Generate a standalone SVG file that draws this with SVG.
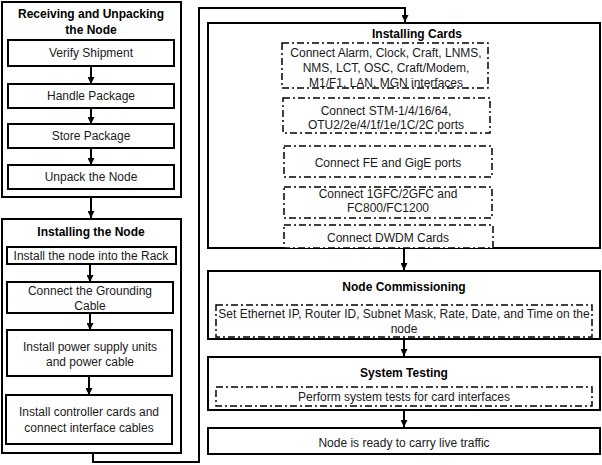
<svg xmlns="http://www.w3.org/2000/svg" width="602" height="465" viewBox="0 0 602 465">
<defs>
<marker id="ah" viewBox="0 0 10 10" refX="10" refY="5" markerWidth="7" markerHeight="7" markerUnits="userSpaceOnUse" orient="auto">
<path d="M0,0 L10,5 L0,10 z" fill="#000"/>
</marker>
<style>
.outer{fill:#fff;stroke:#000;stroke-width:2}
.box{fill:#fff;stroke:#000;stroke-width:2}
.dash{fill:#fff;stroke:#000;stroke-width:1.5;stroke-dasharray:7 3 2 3}
.t{font-family:"Liberation Sans",Arial,sans-serif;font-size:12px;fill:#1a1a1a;text-anchor:middle}
.b{font-family:"Liberation Sans",Arial,sans-serif;font-size:12px;font-weight:bold;fill:#000;text-anchor:middle}
.c{fill:none;stroke:#000;stroke-width:2}
</style>
</defs>
<rect width="602" height="465" fill="#fff"/>

<g id="receiving">
<rect class="outer" x="2" y="2" width="179" height="195"/>
<text class="b" x="91" y="18">Receiving and Unpacking</text>
<text class="b" x="91" y="34">the Node</text>
</g>
<g id="verify"><rect class="box" x="8" y="40" width="166" height="26"/><text class="t" x="91" y="57">Verify Shipment</text></g>
<g id="handle"><rect class="box" x="8" y="84" width="166" height="24"/><text class="t" x="91" y="100">Handle Package</text></g>
<g id="store"><rect class="box" x="8" y="124" width="166" height="24"/><text class="t" x="91" y="140">Store Package</text></g>
<g id="unpack"><rect class="box" x="8" y="165" width="166" height="24"/><text class="t" x="91" y="181">Unpack the Node</text></g>

<g id="installing-node">
<rect class="outer" x="2" y="219" width="179" height="234"/>
<text class="b" x="91" y="236">Installing  the Node</text>
</g>
<g id="rack"><rect class="box" x="7" y="247" width="169" height="17"/><text class="t" x="91" y="259.5">Install the node into the Rack</text></g>
<g id="ground"><rect class="box" x="7" y="282" width="166" height="31"/><text class="t" x="90" y="295">Connect the Grounding</text><text class="t" x="90" y="310">Cable</text></g>
<g id="power"><rect class="box" x="7" y="330" width="165" height="46"/><text class="t" x="90" y="351">Install power supply units</text><text class="t" x="90" y="366">and power cable</text></g>
<g id="controller"><rect class="box" x="6" y="395" width="166" height="49"/><text class="t" x="89" y="416">Install controller cards and</text><text class="t" x="89" y="432">connect interface cables</text></g>

<g id="installing-cards">
<rect class="outer" x="208" y="23" width="392" height="225"/>
<text class="b" x="417" y="38">Installing  Cards</text>
</g>
<g id="alarm"><rect class="dash" x="282" y="43" width="206" height="45"/>
<text class="t" x="386" y="57">Connect Alarm, Clock, Craft, LNMS,</text>
<text class="t" x="386" y="72">NMS, LCT, OSC, Craft/Modem,</text>
<text class="t" x="386" y="87">M1/F1, LAN, MGN interfaces</text></g>
<g id="stm"><rect class="dash" x="283" y="98" width="207" height="35"/>
<text class="t" x="386" y="115">Connect STM-1/4/16/64,</text>
<text class="t" x="386" y="129">OTU2/2e/4/1f/1e/1C/2C ports</text></g>
<g id="fe"><rect class="dash" x="284" y="146" width="208" height="31"/>
<text class="t" x="388" y="167">Connect FE and GigE ports</text></g>
<g id="fc"><rect class="dash" x="284" y="187" width="208" height="31"/>
<text class="t" x="388" y="198">Connect 1GFC/2GFC and</text>
<text class="t" x="388" y="212">FC800/FC1200</text></g>
<g id="dwdm"><rect class="dash" x="284" y="225" width="209" height="23"/>
<text class="t" x="388" y="242">Connect DWDM Cards</text></g>

<g id="commissioning">
<rect class="outer" x="208" y="271" width="392" height="68"/>
<text class="b" x="404" y="291">Node Commissioning</text>
<rect class="dash" x="216" y="305" width="376" height="32"/>
<text class="t" x="404" y="318">Set Ethernet IP, Router ID, Subnet Mask, Rate, Date, and Time on the</text>
<text class="t" x="404" y="333">node</text>
</g>
<g id="testing">
<rect class="outer" x="208" y="357" width="392" height="53"/>
<text class="b" x="404" y="377">System Testing</text>
<rect class="dash" x="216" y="387" width="376" height="19"/>
<text class="t" x="404" y="401">Perform system tests for card interfaces</text>
</g>
<g id="ready">
<rect class="box" x="208" y="428" width="392" height="26"/>
<text class="t" x="404" y="447">Node is ready to carry live traffic</text>
</g>

<g id="connectors">
<line class="c" x1="91" y1="66" x2="91" y2="84" marker-end="url(#ah)"/>
<line class="c" x1="91" y1="108" x2="91" y2="124" marker-end="url(#ah)"/>
<line class="c" x1="91" y1="148" x2="91" y2="165" marker-end="url(#ah)"/>
<line class="c" x1="91" y1="197" x2="91" y2="218" marker-end="url(#ah)"/>
<line class="c" x1="90" y1="264" x2="90" y2="282" marker-end="url(#ah)"/>
<line class="c" x1="90" y1="313" x2="90" y2="330" marker-end="url(#ah)"/>
<line class="c" x1="89" y1="376" x2="89" y2="395" marker-end="url(#ah)"/>
<polyline class="c" points="93,453 93,462 199,462 199,8 405,8 405,22" marker-end="url(#ah)"/>
<line class="c" x1="404" y1="248" x2="404" y2="270" marker-end="url(#ah)"/>
<line class="c" x1="404" y1="339" x2="404" y2="356" marker-end="url(#ah)"/>
<line class="c" x1="404" y1="410" x2="404" y2="427" marker-end="url(#ah)"/>
</g>
</svg>
